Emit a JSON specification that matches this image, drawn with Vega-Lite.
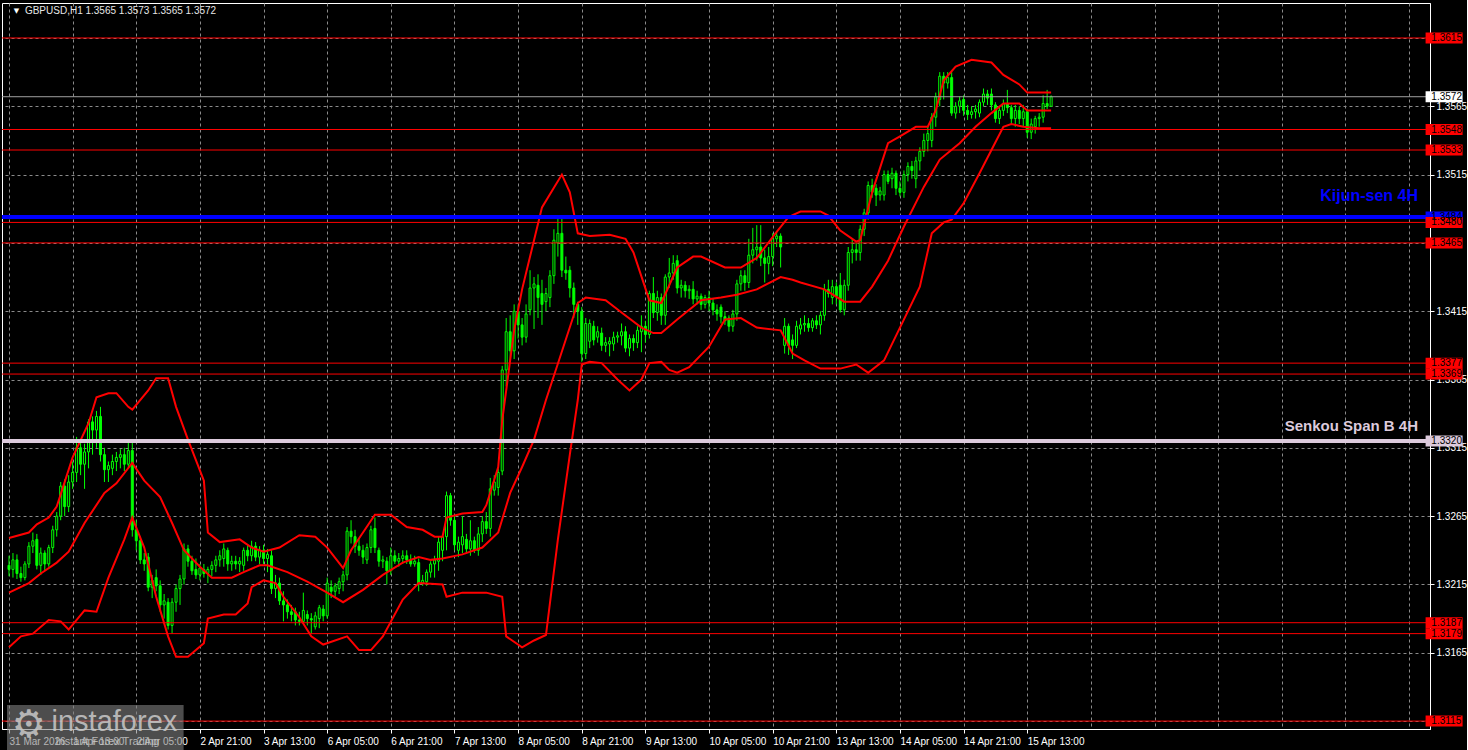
{
"$schema": "https://vega.github.io/schema/vega-lite/v6.json",
"width": 1428,
"height": 726,
"padding": {"left": 0, "top": 3, "right": 0, "bottom": 0},
"background": "#000000",
"config": {
  "view": {"stroke": "#ffffff", "strokeWidth": 1},
  "axis": {"labelColor": "#ffffff", "labelFont": "Liberation Sans", "labelFontSize": 10, "tickColor": "#ffffff", "domainColor": "#ffffff", "gridColor": "#8a8a8a", "gridDash": [3, 3], "gridWidth": 1}
},
"datasets": {
"candles": [
{"i":0,"o":1.3229,"h":1.3236,"l":1.3221,"c":1.3226},
{"i":1,"o":1.3226,"h":1.3238,"l":1.3220,"c":1.3233},
{"i":2,"o":1.3233,"h":1.3237,"l":1.3219,"c":1.3223},
{"i":3,"o":1.3223,"h":1.3228,"l":1.3217,"c":1.3220},
{"i":4,"o":1.3220,"h":1.3232,"l":1.3218,"c":1.3230},
{"i":5,"o":1.3230,"h":1.3246,"l":1.3227,"c":1.3243},
{"i":6,"o":1.3243,"h":1.3253,"l":1.3238,"c":1.3247},
{"i":7,"o":1.3248,"h":1.3252,"l":1.3226,"c":1.3229},
{"i":8,"o":1.3229,"h":1.3242,"l":1.3222,"c":1.3238},
{"i":9,"o":1.3238,"h":1.3240,"l":1.3225,"c":1.3230},
{"i":10,"o":1.3230,"h":1.3244,"l":1.3228,"c":1.3242},
{"i":11,"o":1.3242,"h":1.3258,"l":1.3238,"c":1.3255},
{"i":12,"o":1.3255,"h":1.3268,"l":1.3250,"c":1.3265},
{"i":13,"o":1.3265,"h":1.3290,"l":1.3262,"c":1.3287},
{"i":14,"o":1.3287,"h":1.3292,"l":1.3265,"c":1.3272},
{"i":15,"o":1.3272,"h":1.3295,"l":1.3268,"c":1.3290},
{"i":16,"o":1.3290,"h":1.3305,"l":1.3285,"c":1.3297},
{"i":17,"o":1.3297,"h":1.3323,"l":1.3290,"c":1.3315},
{"i":18,"o":1.3315,"h":1.3320,"l":1.3295,"c":1.3303},
{"i":19,"o":1.3303,"h":1.3318,"l":1.3285,"c":1.3312},
{"i":20,"o":1.3312,"h":1.3336,"l":1.3300,"c":1.3334},
{"i":21,"o":1.3334,"h":1.3338,"l":1.3310,"c":1.3328},
{"i":22,"o":1.3328,"h":1.3342,"l":1.3315,"c":1.3338},
{"i":23,"o":1.3338,"h":1.3345,"l":1.3305,"c":1.3310},
{"i":24,"o":1.3310,"h":1.3315,"l":1.3290,"c":1.3299},
{"i":25,"o":1.3299,"h":1.3305,"l":1.3290,"c":1.3302},
{"i":26,"o":1.3300,"h":1.3310,"l":1.3295,"c":1.3305},
{"i":27,"o":1.3305,"h":1.3312,"l":1.3298,"c":1.3308},
{"i":28,"o":1.3308,"h":1.3314,"l":1.3300,"c":1.3310},
{"i":29,"o":1.3310,"h":1.3315,"l":1.3298,"c":1.3303},
{"i":30,"o":1.3303,"h":1.3319,"l":1.3300,"c":1.3313},
{"i":31,"o":1.3313,"h":1.3320,"l":1.3250,"c":1.3255},
{"i":32,"o":1.3255,"h":1.3262,"l":1.3240,"c":1.3247},
{"i":33,"o":1.3247,"h":1.3250,"l":1.3230,"c":1.3233},
{"i":34,"o":1.3233,"h":1.3238,"l":1.3225,"c":1.3230},
{"i":35,"o":1.3235,"h":1.3238,"l":1.3210,"c":1.3213},
{"i":36,"o":1.3213,"h":1.3222,"l":1.3205,"c":1.3218},
{"i":37,"o":1.3220,"h":1.3226,"l":1.3210,"c":1.3214},
{"i":38,"o":1.3214,"h":1.3218,"l":1.3195,"c":1.3200},
{"i":39,"o":1.3200,"h":1.3208,"l":1.3190,"c":1.3203},
{"i":40,"o":1.3202,"h":1.3205,"l":1.3182,"c":1.3185},
{"i":41,"o":1.3185,"h":1.3205,"l":1.3179,"c":1.3202},
{"i":42,"o":1.3202,"h":1.3215,"l":1.3195,"c":1.3212},
{"i":43,"o":1.3212,"h":1.3222,"l":1.3200,"c":1.3219},
{"i":44,"o":1.3219,"h":1.3245,"l":1.3215,"c":1.3241},
{"i":45,"o":1.3241,"h":1.3244,"l":1.3228,"c":1.3232},
{"i":46,"o":1.3232,"h":1.3236,"l":1.3222,"c":1.3225},
{"i":47,"o":1.3226,"h":1.3234,"l":1.3219,"c":1.3222},
{"i":48,"o":1.3222,"h":1.3230,"l":1.3218,"c":1.3227},
{"i":49,"o":1.3226,"h":1.3230,"l":1.3220,"c":1.3223},
{"i":50,"o":1.3223,"h":1.3228,"l":1.3216,"c":1.3226},
{"i":51,"o":1.3226,"h":1.3232,"l":1.3221,"c":1.3229},
{"i":52,"o":1.3229,"h":1.3236,"l":1.3224,"c":1.3233},
{"i":53,"o":1.3233,"h":1.3240,"l":1.3228,"c":1.3236},
{"i":54,"o":1.3234,"h":1.3245,"l":1.3228,"c":1.3241},
{"i":55,"o":1.3240,"h":1.3242,"l":1.3225,"c":1.3230},
{"i":56,"o":1.3230,"h":1.3236,"l":1.3225,"c":1.3232},
{"i":57,"o":1.3232,"h":1.3236,"l":1.3226,"c":1.3230},
{"i":58,"o":1.3230,"h":1.3235,"l":1.3224,"c":1.3232},
{"i":59,"o":1.3229,"h":1.3242,"l":1.3225,"c":1.3240},
{"i":60,"o":1.3240,"h":1.3244,"l":1.3232,"c":1.3236},
{"i":61,"o":1.3236,"h":1.3247,"l":1.3232,"c":1.3243},
{"i":62,"o":1.3243,"h":1.3246,"l":1.3232,"c":1.3235},
{"i":63,"o":1.3235,"h":1.3243,"l":1.3230,"c":1.3240},
{"i":64,"o":1.3240,"h":1.3244,"l":1.3230,"c":1.3234},
{"i":65,"o":1.3234,"h":1.3241,"l":1.3224,"c":1.3237},
{"i":66,"o":1.3236,"h":1.3240,"l":1.3208,"c":1.3212},
{"i":67,"o":1.3212,"h":1.3222,"l":1.3205,"c":1.3216},
{"i":68,"o":1.3216,"h":1.3220,"l":1.3200,"c":1.3203},
{"i":69,"o":1.3203,"h":1.3210,"l":1.3188,"c":1.3200},
{"i":70,"o":1.3200,"h":1.3204,"l":1.3190,"c":1.3195},
{"i":71,"o":1.3195,"h":1.3200,"l":1.3188,"c":1.3193},
{"i":72,"o":1.3195,"h":1.3198,"l":1.3185,"c":1.3189},
{"i":73,"o":1.3189,"h":1.3195,"l":1.3185,"c":1.3188},
{"i":74,"o":1.3188,"h":1.3209,"l":1.3186,"c":1.3196},
{"i":75,"o":1.3193,"h":1.3196,"l":1.3185,"c":1.3190},
{"i":76,"o":1.3190,"h":1.3194,"l":1.3179,"c":1.3189},
{"i":77,"o":1.3184,"h":1.3195,"l":1.3182,"c":1.3192},
{"i":78,"o":1.3190,"h":1.3200,"l":1.3183,"c":1.3198},
{"i":79,"o":1.3197,"h":1.3200,"l":1.3188,"c":1.3192},
{"i":80,"o":1.3192,"h":1.3220,"l":1.3190,"c":1.3216},
{"i":81,"o":1.3213,"h":1.3218,"l":1.3205,"c":1.3210},
{"i":82,"o":1.3210,"h":1.3216,"l":1.3206,"c":1.3214},
{"i":83,"o":1.3212,"h":1.3220,"l":1.3208,"c":1.3217},
{"i":84,"o":1.3217,"h":1.3225,"l":1.3210,"c":1.3222},
{"i":85,"o":1.3222,"h":1.3257,"l":1.3218,"c":1.3254},
{"i":86,"o":1.3254,"h":1.3262,"l":1.3245,"c":1.3250},
{"i":87,"o":1.3250,"h":1.3255,"l":1.3238,"c":1.3243},
{"i":88,"o":1.3243,"h":1.3248,"l":1.3236,"c":1.3240},
{"i":89,"o":1.3240,"h":1.3244,"l":1.3230,"c":1.3235},
{"i":90,"o":1.3233,"h":1.3245,"l":1.3230,"c":1.3242},
{"i":91,"o":1.3242,"h":1.3258,"l":1.3238,"c":1.3255},
{"i":92,"o":1.3256,"h":1.3264,"l":1.3238,"c":1.3242},
{"i":93,"o":1.3240,"h":1.3242,"l":1.3228,"c":1.3232},
{"i":94,"o":1.3232,"h":1.3236,"l":1.3227,"c":1.3233},
{"i":95,"o":1.3232,"h":1.3235,"l":1.3215,"c":1.3225},
{"i":96,"o":1.3225,"h":1.3242,"l":1.3222,"c":1.3236},
{"i":97,"o":1.3236,"h":1.3240,"l":1.3230,"c":1.3232},
{"i":98,"o":1.3232,"h":1.3238,"l":1.3228,"c":1.3234},
{"i":99,"o":1.3234,"h":1.3240,"l":1.3230,"c":1.3236},
{"i":100,"o":1.3236,"h":1.3240,"l":1.3230,"c":1.3233},
{"i":101,"o":1.3233,"h":1.3237,"l":1.3228,"c":1.3230},
{"i":102,"o":1.3230,"h":1.3236,"l":1.3228,"c":1.3232},
{"i":103,"o":1.3231,"h":1.3234,"l":1.3210,"c":1.3216},
{"i":104,"o":1.3216,"h":1.3222,"l":1.3214,"c":1.3218},
{"i":105,"o":1.3217,"h":1.3226,"l":1.3214,"c":1.3224},
{"i":106,"o":1.3224,"h":1.3232,"l":1.3220,"c":1.3230},
{"i":107,"o":1.3230,"h":1.3236,"l":1.3220,"c":1.3233},
{"i":108,"o":1.3232,"h":1.3250,"l":1.3225,"c":1.3246},
{"i":109,"o":1.3240,"h":1.3252,"l":1.3232,"c":1.3250},
{"i":110,"o":1.3250,"h":1.3283,"l":1.3240,"c":1.3280},
{"i":111,"o":1.3280,"h":1.3282,"l":1.3258,"c":1.3262},
{"i":112,"o":1.3262,"h":1.3266,"l":1.3240,"c":1.3244},
{"i":113,"o":1.3240,"h":1.3250,"l":1.3235,"c":1.3246},
{"i":114,"o":1.3244,"h":1.3265,"l":1.3238,"c":1.3250},
{"i":115,"o":1.3248,"h":1.3252,"l":1.3238,"c":1.3241},
{"i":116,"o":1.3241,"h":1.3262,"l":1.3236,"c":1.3247},
{"i":117,"o":1.3247,"h":1.3250,"l":1.3238,"c":1.3240},
{"i":118,"o":1.3240,"h":1.3257,"l":1.3236,"c":1.3252},
{"i":119,"o":1.3252,"h":1.3265,"l":1.3246,"c":1.3261},
{"i":120,"o":1.3261,"h":1.3268,"l":1.3252,"c":1.3256},
{"i":121,"o":1.3256,"h":1.3293,"l":1.3250,"c":1.3285},
{"i":122,"o":1.3284,"h":1.3295,"l":1.3280,"c":1.3290},
{"i":123,"o":1.3286,"h":1.3300,"l":1.3280,"c":1.3297},
{"i":124,"o":1.3298,"h":1.3375,"l":1.3295,"c":1.3372},
{"i":125,"o":1.3372,"h":1.3410,"l":1.3360,"c":1.3400},
{"i":126,"o":1.3400,"h":1.3412,"l":1.3378,"c":1.3386},
{"i":127,"o":1.3386,"h":1.3420,"l":1.3380,"c":1.3415},
{"i":128,"o":1.3415,"h":1.3420,"l":1.3395,"c":1.3405},
{"i":129,"o":1.3405,"h":1.3410,"l":1.3390,"c":1.3396},
{"i":130,"o":1.3396,"h":1.3420,"l":1.3392,"c":1.3413},
{"i":131,"o":1.3416,"h":1.3445,"l":1.3412,"c":1.3432},
{"i":132,"o":1.3432,"h":1.3440,"l":1.3402,"c":1.3435},
{"i":133,"o":1.3434,"h":1.3442,"l":1.3410,"c":1.3425},
{"i":134,"o":1.3428,"h":1.3438,"l":1.3405,"c":1.3420},
{"i":135,"o":1.3422,"h":1.3432,"l":1.3415,"c":1.3428},
{"i":136,"o":1.3425,"h":1.3445,"l":1.3418,"c":1.3441},
{"i":137,"o":1.3441,"h":1.3475,"l":1.3435,"c":1.3467},
{"i":138,"o":1.3465,"h":1.3483,"l":1.3455,"c":1.3472},
{"i":139,"o":1.3472,"h":1.3483,"l":1.3440,"c":1.3445},
{"i":140,"o":1.3445,"h":1.3455,"l":1.3438,"c":1.3443},
{"i":141,"o":1.3445,"h":1.3448,"l":1.3425,"c":1.3432},
{"i":142,"o":1.3432,"h":1.3436,"l":1.3410,"c":1.3420},
{"i":143,"o":1.3420,"h":1.3422,"l":1.3405,"c":1.3415},
{"i":144,"o":1.3415,"h":1.3418,"l":1.3378,"c":1.3384},
{"i":145,"o":1.3384,"h":1.3410,"l":1.3380,"c":1.3406},
{"i":146,"o":1.3393,"h":1.3409,"l":1.3388,"c":1.3406},
{"i":147,"o":1.3404,"h":1.3408,"l":1.3390,"c":1.3394},
{"i":148,"o":1.3396,"h":1.3404,"l":1.3392,"c":1.3400},
{"i":149,"o":1.3399,"h":1.3403,"l":1.3386,"c":1.3390},
{"i":150,"o":1.3390,"h":1.3396,"l":1.3385,"c":1.3392},
{"i":151,"o":1.3391,"h":1.3396,"l":1.3382,"c":1.3393},
{"i":152,"o":1.3391,"h":1.3400,"l":1.3386,"c":1.3396},
{"i":153,"o":1.3396,"h":1.3400,"l":1.3392,"c":1.3397},
{"i":154,"o":1.3397,"h":1.3406,"l":1.3390,"c":1.3400},
{"i":155,"o":1.3400,"h":1.3404,"l":1.3385,"c":1.3388},
{"i":156,"o":1.3388,"h":1.3398,"l":1.3382,"c":1.3395},
{"i":157,"o":1.3395,"h":1.3398,"l":1.3386,"c":1.3392},
{"i":158,"o":1.3392,"h":1.3404,"l":1.3388,"c":1.3401},
{"i":159,"o":1.3400,"h":1.3412,"l":1.3385,"c":1.3404},
{"i":160,"o":1.3404,"h":1.3408,"l":1.3392,"c":1.3398},
{"i":161,"o":1.3398,"h":1.3430,"l":1.3395,"c":1.3428},
{"i":162,"o":1.3428,"h":1.3440,"l":1.3410,"c":1.3414},
{"i":163,"o":1.3414,"h":1.3430,"l":1.3408,"c":1.3425},
{"i":164,"o":1.3425,"h":1.3428,"l":1.3405,"c":1.3412},
{"i":165,"o":1.3412,"h":1.3442,"l":1.3405,"c":1.3440},
{"i":166,"o":1.3440,"h":1.3454,"l":1.3432,"c":1.3443},
{"i":167,"o":1.3443,"h":1.3456,"l":1.3438,"c":1.3450},
{"i":168,"o":1.3452,"h":1.3456,"l":1.3428,"c":1.3432},
{"i":169,"o":1.3432,"h":1.3438,"l":1.3425,"c":1.3434},
{"i":170,"o":1.3434,"h":1.3437,"l":1.3425,"c":1.3430},
{"i":171,"o":1.3430,"h":1.3434,"l":1.3424,"c":1.3431},
{"i":172,"o":1.3431,"h":1.3437,"l":1.3420,"c":1.3424},
{"i":173,"o":1.3424,"h":1.3430,"l":1.3420,"c":1.3426},
{"i":174,"o":1.3426,"h":1.3428,"l":1.3416,"c":1.3420},
{"i":175,"o":1.3420,"h":1.3427,"l":1.3417,"c":1.3425},
{"i":176,"o":1.3425,"h":1.3430,"l":1.3415,"c":1.3421},
{"i":177,"o":1.3421,"h":1.3424,"l":1.3412,"c":1.3416},
{"i":178,"o":1.3416,"h":1.3420,"l":1.3408,"c":1.3413},
{"i":179,"o":1.3418,"h":1.3420,"l":1.3406,"c":1.3411},
{"i":180,"o":1.3411,"h":1.3415,"l":1.3405,"c":1.3408},
{"i":181,"o":1.3410,"h":1.3412,"l":1.3400,"c":1.3404},
{"i":182,"o":1.3404,"h":1.3416,"l":1.3400,"c":1.3413},
{"i":183,"o":1.3413,"h":1.3438,"l":1.3408,"c":1.3435},
{"i":184,"o":1.3435,"h":1.3445,"l":1.3430,"c":1.3441},
{"i":185,"o":1.3441,"h":1.3445,"l":1.3430,"c":1.3436},
{"i":186,"o":1.3436,"h":1.3468,"l":1.3432,"c":1.3456},
{"i":187,"o":1.3456,"h":1.3476,"l":1.3450,"c":1.3460},
{"i":188,"o":1.3460,"h":1.3478,"l":1.3452,"c":1.3462},
{"i":189,"o":1.3462,"h":1.3478,"l":1.3448,"c":1.3454},
{"i":190,"o":1.3454,"h":1.3460,"l":1.3436,"c":1.3450},
{"i":191,"o":1.3450,"h":1.3462,"l":1.3442,"c":1.3455},
{"i":192,"o":1.3455,"h":1.3472,"l":1.3448,"c":1.3468},
{"i":193,"o":1.3468,"h":1.3473,"l":1.3462,"c":1.3470},
{"i":194,"o":1.3470,"h":1.3472,"l":1.3447,"c":1.3462},
{"i":195,"o":1.3390,"h":1.3410,"l":1.3384,"c":1.3404},
{"i":196,"o":1.3404,"h":1.3406,"l":1.3383,"c":1.3390},
{"i":197,"o":1.3394,"h":1.3398,"l":1.3380,"c":1.3390},
{"i":198,"o":1.3390,"h":1.3408,"l":1.3388,"c":1.3404},
{"i":199,"o":1.3402,"h":1.3410,"l":1.3398,"c":1.3405},
{"i":200,"o":1.3405,"h":1.3412,"l":1.3400,"c":1.3406},
{"i":201,"o":1.3406,"h":1.3410,"l":1.3400,"c":1.3403},
{"i":202,"o":1.3403,"h":1.3410,"l":1.3400,"c":1.3408},
{"i":203,"o":1.3408,"h":1.3412,"l":1.3402,"c":1.3405},
{"i":204,"o":1.3405,"h":1.3415,"l":1.3398,"c":1.3412},
{"i":205,"o":1.3412,"h":1.3435,"l":1.3408,"c":1.3431},
{"i":206,"o":1.3431,"h":1.3438,"l":1.3425,"c":1.3428},
{"i":207,"o":1.3425,"h":1.3438,"l":1.3420,"c":1.3433},
{"i":208,"o":1.3433,"h":1.3436,"l":1.3420,"c":1.3426},
{"i":209,"o":1.3434,"h":1.3443,"l":1.3414,"c":1.3416},
{"i":210,"o":1.3416,"h":1.3438,"l":1.3412,"c":1.3434},
{"i":211,"o":1.3434,"h":1.3462,"l":1.3430,"c":1.3458},
{"i":212,"o":1.3458,"h":1.3468,"l":1.3450,"c":1.3460},
{"i":213,"o":1.3460,"h":1.3465,"l":1.3452,"c":1.3458},
{"i":214,"o":1.3458,"h":1.3478,"l":1.3452,"c":1.3475},
{"i":215,"o":1.3475,"h":1.3490,"l":1.3470,"c":1.3487},
{"i":216,"o":1.3487,"h":1.3510,"l":1.3482,"c":1.3507},
{"i":217,"o":1.3507,"h":1.3512,"l":1.3498,"c":1.3502},
{"i":218,"o":1.3505,"h":1.3508,"l":1.3492,"c":1.3500},
{"i":219,"o":1.3500,"h":1.3506,"l":1.3496,"c":1.3503},
{"i":220,"o":1.3500,"h":1.3518,"l":1.3496,"c":1.3515},
{"i":221,"o":1.3515,"h":1.3518,"l":1.3508,"c":1.3510},
{"i":222,"o":1.3512,"h":1.3520,"l":1.3505,"c":1.3516},
{"i":223,"o":1.3516,"h":1.3518,"l":1.3500,"c":1.3505},
{"i":224,"o":1.3505,"h":1.3510,"l":1.3499,"c":1.3502},
{"i":225,"o":1.3502,"h":1.3518,"l":1.3498,"c":1.3515},
{"i":226,"o":1.3515,"h":1.3524,"l":1.3510,"c":1.3521},
{"i":227,"o":1.3521,"h":1.3525,"l":1.3512,"c":1.3518},
{"i":228,"o":1.3512,"h":1.3528,"l":1.3505,"c":1.3525},
{"i":229,"o":1.3525,"h":1.3535,"l":1.3518,"c":1.3532},
{"i":230,"o":1.3532,"h":1.3545,"l":1.3528,"c":1.3540},
{"i":231,"o":1.3540,"h":1.3550,"l":1.3532,"c":1.3545},
{"i":232,"o":1.3540,"h":1.3560,"l":1.3535,"c":1.3557},
{"i":233,"o":1.3557,"h":1.3575,"l":1.3550,"c":1.3572},
{"i":234,"o":1.3570,"h":1.3590,"l":1.3565,"c":1.3587},
{"i":235,"o":1.3587,"h":1.3590,"l":1.3570,"c":1.3582},
{"i":236,"o":1.3582,"h":1.3590,"l":1.3578,"c":1.3586},
{"i":237,"o":1.3586,"h":1.3590,"l":1.3558,"c":1.3560},
{"i":238,"o":1.3560,"h":1.3568,"l":1.3556,"c":1.3565},
{"i":239,"o":1.3565,"h":1.3572,"l":1.3560,"c":1.3569},
{"i":240,"o":1.3570,"h":1.3573,"l":1.3558,"c":1.3562},
{"i":241,"o":1.3562,"h":1.3566,"l":1.3555,"c":1.3559},
{"i":242,"o":1.3559,"h":1.3565,"l":1.3556,"c":1.3561},
{"i":243,"o":1.3561,"h":1.3566,"l":1.3556,"c":1.3563},
{"i":244,"o":1.3560,"h":1.3570,"l":1.3557,"c":1.3568},
{"i":245,"o":1.3568,"h":1.3578,"l":1.3565,"c":1.3574},
{"i":246,"o":1.3574,"h":1.3577,"l":1.3566,"c":1.3571},
{"i":247,"o":1.3574,"h":1.3578,"l":1.3562,"c":1.3566},
{"i":248,"o":1.3566,"h":1.3568,"l":1.3553,"c":1.3556},
{"i":249,"o":1.3556,"h":1.3565,"l":1.3552,"c":1.3562},
{"i":250,"o":1.3562,"h":1.3570,"l":1.3558,"c":1.3567},
{"i":251,"o":1.3567,"h":1.3577,"l":1.3560,"c":1.3564},
{"i":252,"o":1.3564,"h":1.3566,"l":1.3552,"c":1.3556},
{"i":253,"o":1.3556,"h":1.3566,"l":1.3550,"c":1.3562},
{"i":254,"o":1.3562,"h":1.3565,"l":1.3552,"c":1.3556},
{"i":255,"o":1.3556,"h":1.3566,"l":1.3550,"c":1.3561},
{"i":256,"o":1.3561,"h":1.3563,"l":1.3542,"c":1.3546},
{"i":257,"o":1.3546,"h":1.3556,"l":1.3541,"c":1.3552},
{"i":258,"o":1.3550,"h":1.3558,"l":1.3545,"c":1.3556},
{"i":259,"o":1.3556,"h":1.3560,"l":1.3550,"c":1.3557},
{"i":260,"o":1.3557,"h":1.3573,"l":1.3553,"c":1.3567},
{"i":261,"o":1.3567,"h":1.3577,"l":1.3563,"c":1.3565},
{"i":262,"o":1.3565,"h":1.3573,"l":1.3565,"c":1.3572}
],
"bb": [
{"i":0,"b":"u","v":1.3249},{"i":5,"b":"u","v":1.3253},{"i":7,"b":"u","v":1.3259},{"i":10,"b":"u","v":1.3264},{"i":12,"b":"u","v":1.3272},{"i":16,"b":"u","v":1.3308},{"i":20,"b":"u","v":1.3333},{"i":22,"b":"u","v":1.3352},{"i":25,"b":"u","v":1.3355},{"i":27,"b":"u","v":1.3355},{"i":30,"b":"u","v":1.3345},{"i":31,"b":"u","v":1.3343},{"i":35,"b":"u","v":1.3357},{"i":37,"b":"u","v":1.3366},{"i":40,"b":"u","v":1.3366},{"i":42,"b":"u","v":1.3345},{"i":45,"b":"u","v":1.3321},{"i":49,"b":"u","v":1.3291},{"i":50,"b":"u","v":1.3253},{"i":53,"b":"u","v":1.3246},{"i":58,"b":"u","v":1.3248},{"i":61,"b":"u","v":1.3242},{"i":64,"b":"u","v":1.3239},{"i":68,"b":"u","v":1.3242},{"i":73,"b":"u","v":1.3251},{"i":77,"b":"u","v":1.3250},{"i":80,"b":"u","v":1.3242},{"i":84,"b":"u","v":1.3227},{"i":86,"b":"u","v":1.3240},{"i":89,"b":"u","v":1.3253},{"i":92,"b":"u","v":1.3266},{"i":96,"b":"u","v":1.3266},{"i":100,"b":"u","v":1.3257},{"i":104,"b":"u","v":1.3255},{"i":107,"b":"u","v":1.3250},{"i":109,"b":"u","v":1.3250},{"i":110,"b":"u","v":1.3264},{"i":114,"b":"u","v":1.3267},{"i":119,"b":"u","v":1.3268},{"i":120,"b":"u","v":1.3273},{"i":123,"b":"u","v":1.3301},{"i":124,"b":"u","v":1.3335},{"i":127,"b":"u","v":1.3401},{"i":129,"b":"u","v":1.3431},{"i":132,"b":"u","v":1.3467},{"i":134,"b":"u","v":1.3491},{"i":139,"b":"u","v":1.3515},{"i":141,"b":"u","v":1.3502},{"i":143,"b":"u","v":1.3472},{"i":146,"b":"u","v":1.3470},{"i":151,"b":"u","v":1.3471},{"i":155,"b":"u","v":1.3468},{"i":157,"b":"u","v":1.3458},{"i":161,"b":"u","v":1.3423},{"i":164,"b":"u","v":1.3421},{"i":168,"b":"u","v":1.3447},{"i":172,"b":"u","v":1.3455},{"i":174,"b":"u","v":1.3455},{"i":180,"b":"u","v":1.3447},{"i":184,"b":"u","v":1.3447},{"i":188,"b":"u","v":1.3454},{"i":193,"b":"u","v":1.3473},{"i":196,"b":"u","v":1.3484},{"i":199,"b":"u","v":1.3488},{"i":204,"b":"u","v":1.3488},{"i":206,"b":"u","v":1.3485},{"i":209,"b":"u","v":1.3474},{"i":213,"b":"u","v":1.3466},{"i":214,"b":"u","v":1.3467},{"i":217,"b":"u","v":1.3502},{"i":221,"b":"u","v":1.3538},{"i":224,"b":"u","v":1.3543},{"i":228,"b":"u","v":1.3550},{"i":231,"b":"u","v":1.3550},{"i":233,"b":"u","v":1.3562},{"i":235,"b":"u","v":1.3584},{"i":238,"b":"u","v":1.3594},{"i":242,"b":"u","v":1.3599},{"i":247,"b":"u","v":1.3597},{"i":250,"b":"u","v":1.3588},{"i":254,"b":"u","v":1.3581},{"i":256,"b":"u","v":1.3575},{"i":260,"b":"u","v":1.3575},{"i":262,"b":"u","v":1.3575},
{"i":0,"b":"m","v":1.3209},{"i":5,"b":"m","v":1.3216},{"i":8,"b":"m","v":1.3223},{"i":12,"b":"m","v":1.3231},{"i":15,"b":"m","v":1.3239},{"i":19,"b":"m","v":1.3260},{"i":24,"b":"m","v":1.3282},{"i":27,"b":"m","v":1.3289},{"i":31,"b":"m","v":1.3304},{"i":34,"b":"m","v":1.3291},{"i":38,"b":"m","v":1.3279},{"i":41,"b":"m","v":1.3260},{"i":44,"b":"m","v":1.3240},{"i":48,"b":"m","v":1.3228},{"i":51,"b":"m","v":1.3220},{"i":56,"b":"m","v":1.3220},{"i":59,"b":"m","v":1.3224},{"i":63,"b":"m","v":1.3229},{"i":65,"b":"m","v":1.3229},{"i":70,"b":"m","v":1.3224},{"i":75,"b":"m","v":1.3217},{"i":80,"b":"m","v":1.3209},{"i":84,"b":"m","v":1.3202},{"i":89,"b":"m","v":1.3211},{"i":94,"b":"m","v":1.3222},{"i":99,"b":"m","v":1.3231},{"i":103,"b":"m","v":1.3235},{"i":106,"b":"m","v":1.3233},{"i":109,"b":"m","v":1.3234},{"i":114,"b":"m","v":1.3237},{"i":119,"b":"m","v":1.3242},{"i":123,"b":"m","v":1.3253},{"i":126,"b":"m","v":1.3282},{"i":129,"b":"m","v":1.3301},{"i":132,"b":"m","v":1.3321},{"i":135,"b":"m","v":1.3350},{"i":143,"b":"m","v":1.3421},{"i":145,"b":"m","v":1.3425},{"i":150,"b":"m","v":1.3423},{"i":154,"b":"m","v":1.3414},{"i":159,"b":"m","v":1.3403},{"i":162,"b":"m","v":1.3399},{"i":164,"b":"m","v":1.3399},{"i":168,"b":"m","v":1.3409},{"i":174,"b":"m","v":1.3423},{"i":179,"b":"m","v":1.3425},{"i":183,"b":"m","v":1.3427},{"i":188,"b":"m","v":1.3431},{"i":194,"b":"m","v":1.3440},{"i":197,"b":"m","v":1.3438},{"i":199,"b":"m","v":1.3436},{"i":205,"b":"m","v":1.3431},{"i":210,"b":"m","v":1.3422},{"i":214,"b":"m","v":1.3422},{"i":217,"b":"m","v":1.3433},{"i":221,"b":"m","v":1.3452},{"i":225,"b":"m","v":1.3477},{"i":230,"b":"m","v":1.3506},{"i":234,"b":"m","v":1.3526},{"i":239,"b":"m","v":1.3538},{"i":243,"b":"m","v":1.3550},{"i":247,"b":"m","v":1.3560},{"i":250,"b":"m","v":1.3567},{"i":254,"b":"m","v":1.3567},{"i":256,"b":"m","v":1.3562},{"i":262,"b":"m","v":1.3562},
{"i":0,"b":"l","v":1.3169},{"i":3,"b":"l","v":1.3177},{"i":6,"b":"l","v":1.3179},{"i":10,"b":"l","v":1.3189},{"i":13,"b":"l","v":1.3188},{"i":15,"b":"l","v":1.3182},{"i":19,"b":"l","v":1.3196},{"i":22,"b":"l","v":1.3195},{"i":25,"b":"l","v":1.3220},{"i":29,"b":"l","v":1.3248},{"i":31,"b":"l","v":1.3264},{"i":34,"b":"l","v":1.3242},{"i":37,"b":"l","v":1.3206},{"i":40,"b":"l","v":1.3177},{"i":42,"b":"l","v":1.3162},{"i":45,"b":"l","v":1.3162},{"i":49,"b":"l","v":1.3172},{"i":50,"b":"l","v":1.3190},{"i":54,"b":"l","v":1.3193},{"i":57,"b":"l","v":1.3193},{"i":60,"b":"l","v":1.3201},{"i":61,"b":"l","v":1.3213},{"i":64,"b":"l","v":1.3218},{"i":67,"b":"l","v":1.3216},{"i":69,"b":"l","v":1.3206},{"i":73,"b":"l","v":1.3191},{"i":76,"b":"l","v":1.3177},{"i":79,"b":"l","v":1.3171},{"i":85,"b":"l","v":1.3177},{"i":88,"b":"l","v":1.3167},{"i":91,"b":"l","v":1.3167},{"i":94,"b":"l","v":1.3177},{"i":99,"b":"l","v":1.3204},{"i":103,"b":"l","v":1.3216},{"i":109,"b":"l","v":1.3215},{"i":110,"b":"l","v":1.3206},{"i":114,"b":"l","v":1.3209},{"i":120,"b":"l","v":1.3209},{"i":124,"b":"l","v":1.3206},{"i":125,"b":"l","v":1.3177},{"i":129,"b":"l","v":1.3169},{"i":132,"b":"l","v":1.3174},{"i":135,"b":"l","v":1.3178},{"i":138,"b":"l","v":1.3248},{"i":141,"b":"l","v":1.3310},{"i":143,"b":"l","v":1.3350},{"i":144,"b":"l","v":1.3376},{"i":146,"b":"l","v":1.3378},{"i":149,"b":"l","v":1.3377},{"i":153,"b":"l","v":1.3365},{"i":156,"b":"l","v":1.3357},{"i":159,"b":"l","v":1.3365},{"i":161,"b":"l","v":1.3377},{"i":164,"b":"l","v":1.3378},{"i":166,"b":"l","v":1.3372},{"i":168,"b":"l","v":1.3370},{"i":171,"b":"l","v":1.3374},{"i":176,"b":"l","v":1.3389},{"i":180,"b":"l","v":1.3409},{"i":184,"b":"l","v":1.3410},{"i":188,"b":"l","v":1.3403},{"i":194,"b":"l","v":1.3401},{"i":197,"b":"l","v":1.3384},{"i":200,"b":"l","v":1.3379},{"i":204,"b":"l","v":1.3373},{"i":209,"b":"l","v":1.3373},{"i":213,"b":"l","v":1.3376},{"i":216,"b":"l","v":1.3370},{"i":220,"b":"l","v":1.3379},{"i":224,"b":"l","v":1.3403},{"i":229,"b":"l","v":1.3433},{"i":232,"b":"l","v":1.3472},{"i":235,"b":"l","v":1.3480},{"i":237,"b":"l","v":1.3482},{"i":240,"b":"l","v":1.3494},{"i":244,"b":"l","v":1.3516},{"i":247,"b":"l","v":1.3533},{"i":250,"b":"l","v":1.3550},{"i":252,"b":"l","v":1.3552},{"i":255,"b":"l","v":1.3550},{"i":259,"b":"l","v":1.3549},{"i":262,"b":"l","v":1.3549}
],
"levels": [
{"level":1.3615,"kind":"red"},
{"level":1.3572,"kind":"gray"},
{"level":1.3548,"kind":"red"},
{"level":1.3533,"kind":"red"},
{"level":1.3484,"kind":"blue"},
{"level":1.3480,"kind":"red"},
{"level":1.3465,"kind":"red"},
{"level":1.3377,"kind":"red"},
{"level":1.3369,"kind":"red"},
{"level":1.3320,"kind":"lavender"},
{"level":1.3187,"kind":"red"},
{"level":1.3179,"kind":"red"},
{"level":1.3115,"kind":"red"}
]
},
"layer": [
{
  "data": {"name": "candles"},
  "mark": {"type": "rule", "color": "#00ff00", "strokeWidth": 1},
  "encoding": {
    "x": {"field": "i", "type": "quantitative", "title": null,
      "scale": {"domain": [-0.5, 356], "nice": false, "zero": false},
      "axis": {"title": null, "zindex": 0, "values": [0,8,16,24,32,40,48,56,64,72,80,88,96,104,112,120,128,136,144,152,160,168,176,184,192,200,208,216,224,232,240,248,256,264,272,280,288,296,304,312,320,328,336,344,352],
        "grid": true, "labelAlign": "left", "labelPadding": 3, "labelOverlap": false, "labelFlush": false, "labelBound": false, "tickSize": 4,
        "tickOpacity": {"condition": {"test": "datum.value % 16 == 0 && datum.value <= 256", "value": 1}, "value": 0},
        "labelExpr": "datum.value % 16 == 0 && datum.value <= 256 ? ['31 Mar 2026','1 Apr 13:00','2 Apr 05:00','2 Apr 21:00','3 Apr 13:00','6 Apr 05:00','6 Apr 21:00','7 Apr 13:00','8 Apr 05:00','8 Apr 21:00','9 Apr 13:00','10 Apr 05:00','10 Apr 21:00','13 Apr 13:00','14 Apr 05:00','14 Apr 21:00','15 Apr 13:00'][datum.value / 16] : ''"}},
    "y": {"field": "l", "type": "quantitative", "title": null,
      "scale": {"domain": [1.31092, 1.36406], "nice": false, "zero": false},
      "axis": {"title": null, "zindex": 0, "orient": "right", "values": [1.3115,1.314,1.3165,1.319,1.3215,1.324,1.3265,1.329,1.3315,1.334,1.3365,1.339,1.3415,1.344,1.3465,1.349,1.3515,1.354,1.3565,1.359,1.3615,1.364],
        "format": ".4f", "grid": true, "tickSize": 4, "labelPadding": 2, "labelOverlap": false, "labelFlush": false, "labelBound": false,
        "labelOpacity": {"condition": {"test": "datum.value == 1.3615 || datum.value == 1.3115 || datum.value == 1.3465 || datum.value == 1.319", "value": 0}, "value": 1}}},
    "y2": {"field": "h"}
  }
},
{
  "data": {"name": "candles"},
  "mark": {"type": "bar", "width": 2, "stroke": "#00ff00", "strokeWidth": 1},
  "encoding": {
    "x": {"field": "i", "type": "quantitative", "title": null},
    "y": {"field": "o", "type": "quantitative", "title": null},
    "y2": {"field": "c"},
    "fill": {"condition": {"test": "datum.c < datum.o", "value": "#00ff00"}, "value": "#000000"}
  }
},
{
  "data": {"name": "bb"},
  "mark": {"type": "line", "color": "#ff0000", "strokeWidth": 2},
  "encoding": {
    "x": {"field": "i", "type": "quantitative", "title": null},
    "y": {"field": "v", "type": "quantitative", "title": null},
    "detail": {"field": "b", "type": "nominal"}
  }
},
{
  "data": {"name": "levels"},
  "transform": [{"filter": "datum.kind == 'red'"}],
  "mark": {"type": "rule", "color": "#ff0000", "strokeWidth": 1},
  "encoding": {
    "y": {"field": "level", "type": "quantitative", "title": null}
  }
},
{
  "data": {"name": "levels"},
  "transform": [{"filter": "datum.kind == 'gray'"}],
  "mark": {"type": "rule", "color": "#a0a0a0", "strokeWidth": 1},
  "encoding": {
    "y": {"field": "level", "type": "quantitative", "title": null}
  }
},
{
  "data": {"name": "levels"},
  "transform": [{"filter": "datum.kind == 'blue'"}],
  "mark": {"type": "rule", "color": "#0000ff", "strokeWidth": 4},
  "encoding": {
    "y": {"field": "level", "type": "quantitative", "title": null}
  }
},
{
  "data": {"name": "levels"},
  "transform": [{"filter": "datum.kind == 'lavender'"}],
  "mark": {"type": "rule", "color": "#dccadc", "strokeWidth": 4},
  "encoding": {
    "y": {"field": "level", "type": "quantitative", "title": null}
  }
},
{
  "data": {"values": [{"t": "Kijun-sen 4H"}]},
  "mark": {"type": "text", "align": "right", "baseline": "alphabetic", "font": "Liberation Sans", "fontWeight": "bold", "fontSize": 16, "color": "#0000ff"},
  "encoding": {
    "x": {"datum": 354.25, "type": "quantitative"},
    "y": {"datum": 1.34957, "type": "quantitative"},
    "text": {"field": "t"}
  }
},
{
  "data": {"values": [{"t": "Senkou Span B 4H"}]},
  "mark": {"type": "text", "align": "right", "baseline": "alphabetic", "font": "Liberation Sans", "fontWeight": "bold", "fontSize": 15, "color": "#dccadc"},
  "encoding": {
    "x": {"datum": 354.25, "type": "quantitative"},
    "y": {"datum": 1.33273, "type": "quantitative"},
    "text": {"field": "t"}
  }
},
{
  "data": {"name": "levels"},
  "mark": {"type": "tick", "orient": "horizontal", "size": 37, "thickness": 11, "opacity": 1},
  "encoding": {
    "x": {"datum": 360.8, "type": "quantitative"},
    "y": {"field": "level", "type": "quantitative", "title": null},
    "fill": {"field": "kind", "type": "nominal", "legend": null, "scale": {"domain": ["red", "blue", "lavender", "gray"], "range": ["#ff0000", "#0000ff", "#dccadc", "#ffffff"]}}
  }
},
{
  "data": {"name": "levels"},
  "mark": {"type": "text", "align": "left", "baseline": "middle", "font": "Liberation Sans", "fontSize": 10, "color": "#000000"},
  "encoding": {
    "x": {"datum": 357.6, "type": "quantitative"},
    "y": {"field": "level", "type": "quantitative", "title": null},
    "text": {"field": "level", "type": "quantitative", "format": ".4f"}
  }
},
{
  "data": {"values": [{"a": 1}]},
  "mark": {"type": "rect", "color": "#808080", "opacity": 0.6},
  "encoding": {
    "x": {"datum": -0.5, "type": "quantitative"},
    "x2": {"datum": 43.9},
    "y": {"datum": 1.31268, "type": "quantitative"},
    "y2": {"datum": 1.30938}
  }
},
{
  "data": {"values": [{"t": "⚙"}]},
  "mark": {"type": "text", "align": "center", "baseline": "middle", "font": "DejaVu Sans", "fontSize": 38, "color": "#c8c8c8", "opacity": 0.85},
  "encoding": {
    "x": {"datum": 5.0, "type": "quantitative"},
    "y": {"datum": 1.31114, "type": "quantitative"},
    "text": {"field": "t"}
  }
},
{
  "data": {"values": [{"t": "instaforex"}]},
  "mark": {"type": "text", "align": "left", "baseline": "alphabetic", "font": "Liberation Sans", "fontSize": 29, "color": "#c8c8c8", "opacity": 0.85},
  "encoding": {
    "x": {"datum": 10.7, "type": "quantitative"},
    "y": {"datum": 1.31077, "type": "quantitative"},
    "text": {"field": "t"}
  }
},
{
  "data": {"values": [{"t": "Instant Forex Trading"}]},
  "mark": {"type": "text", "align": "left", "baseline": "alphabetic", "font": "Liberation Sans", "fontSize": 11, "color": "#c8c8c8", "opacity": 0.85},
  "encoding": {
    "x": {"datum": 11.7, "type": "quantitative"},
    "y": {"datum": 1.30975, "type": "quantitative"},
    "text": {"field": "t"}
  }
},
{
  "data": {"values": [{"t": "▼"}]},
  "mark": {"type": "text", "align": "center", "baseline": "middle", "font": "DejaVu Sans", "fontSize": 7, "color": "#ffffff"},
  "encoding": {
    "x": {"datum": 1.9, "type": "quantitative"},
    "y": {"datum": 1.36348, "type": "quantitative"},
    "text": {"field": "t"}
  }
},
{
  "data": {"values": [{"t": "GBPUSD,H1  1.3565 1.3573 1.3565 1.3572"}]},
  "mark": {"type": "text", "align": "left", "baseline": "middle", "font": "Liberation Sans", "fontSize": 10, "color": "#e6e6e6"},
  "encoding": {
    "x": {"datum": 4.0, "type": "quantitative"},
    "y": {"datum": 1.36348, "type": "quantitative"},
    "text": {"field": "t"}
  }
}
]
}
